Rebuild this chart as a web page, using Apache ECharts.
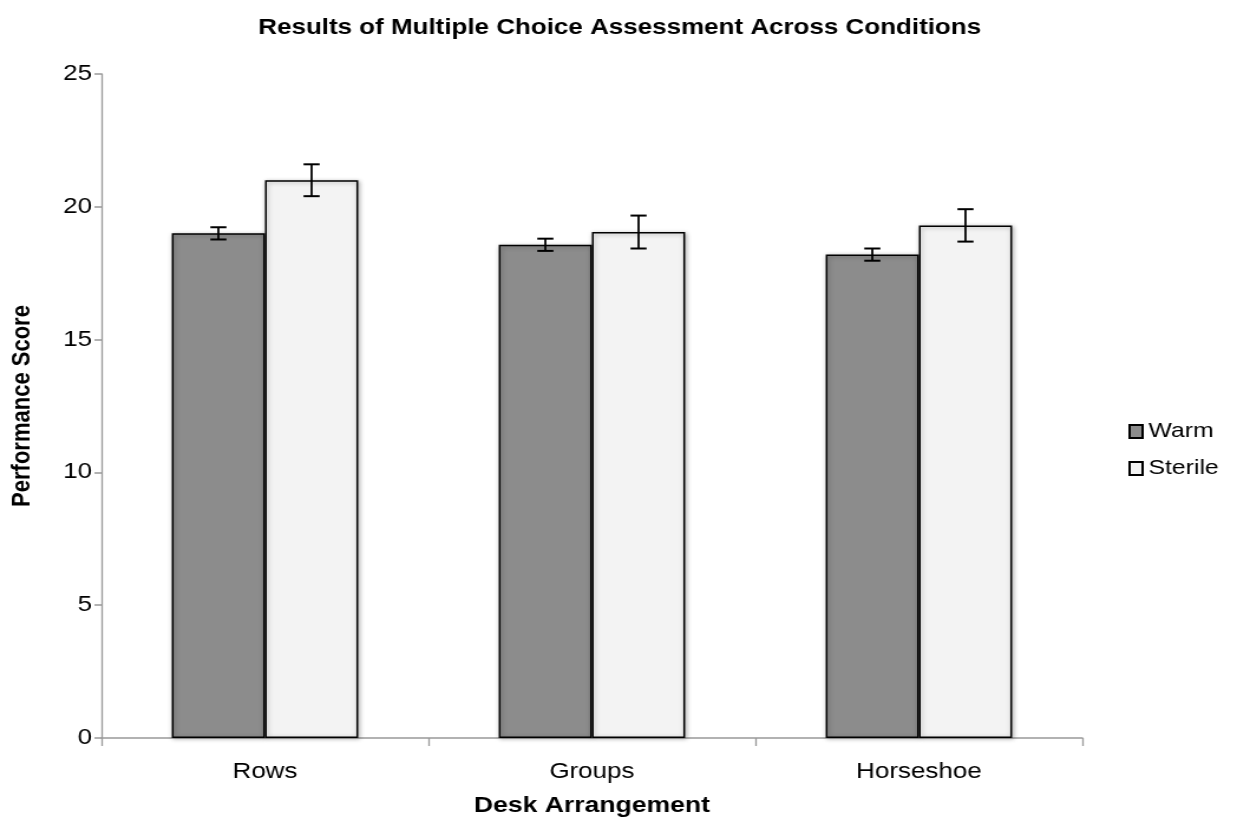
<!DOCTYPE html>
<html>
<head>
<meta charset="utf-8">
<script src="https://cdn.jsdelivr.net/npm/echarts@6/dist/echarts.min.js"></script>
<style>
html,body{margin:0;padding:0;background:#fff;overflow:hidden;}
#chart{width:1048px;height:828px;transform:scaleX(1.18034);transform-origin:0 0;}
</style>
</head>
<body>
<div id="chart"></div>
<script>
const categories = ['Rows', 'Groups', 'Horseshoe'];
const seriesNames = ['Warm', 'Sterile'];
const warmValues = [19.0, 18.57, 18.2];
const sterileValues = [21.0, 19.05, 19.3];
const warmErrors = [0.23, 0.23, 0.23];
const sterileErrors = [0.6, 0.62, 0.61];
const yTicks = [0, 5, 10, 15, 20, 25];

const FONT = '"Liberation Sans", Arial, sans-serif';
const CAT_GAP = 0.43;

function errorSeries(name, values, errors, side) {
  return {
    type: 'custom',
    name: name + ' error',
    z: 10,
    silent: true,
    data: values.map((v, i) => [i, v, errors[i]]),
    renderItem: function (params, api) {
      const idx = api.value(0), v = api.value(1), e = api.value(2);
      const band = api.size([1, 0])[0];
      const bw = band * (1 - CAT_GAP) / 2;
      const c = api.coord([idx, v]);
      const x = c[0] + side * bw / 2;
      const top = api.coord([idx, v + e])[1];
      const bot = api.coord([idx, v - e])[1];
      const cap = 6.8;
      const st = { stroke: '#000', lineWidth: 2 };
      return {
        type: 'group',
        children: [
          { type: 'line', shape: { x1: x, y1: top, x2: x, y2: bot }, style: { stroke: '#000', lineWidth: 1.8 } },
          { type: 'line', shape: { x1: x - cap, y1: top, x2: x + cap, y2: top }, style: st },
          { type: 'line', shape: { x1: x - cap, y1: bot, x2: x + cap, y2: bot }, style: st }
        ]
      };
    }
  };
}

const chart = echarts.init(document.getElementById('chart'), null, { renderer: 'canvas' });
chart.setOption({
  animation: false,
  backgroundColor: '#fff',
  title: {
    text: 'Results of Multiple Choice Assessment Across Conditions',
    left: 520, top: 12, textAlign: 'center',
    textStyle: { fontFamily: FONT, fontWeight: 'bold', fontSize: 22, color: '#000' }
  },
  legend: {
    orient: 'vertical',
    left: 951, top: 416,
    itemWidth: 11, itemHeight: 13, itemGap: 16,
    icon: 'rect',
    textStyle: { fontFamily: FONT, fontSize: 21, color: '#000' },
    data: seriesNames
  },
  grid: { left: 84, right: 131, top: 74, bottom: 90, containLabel: false },
  xAxis: {
    type: 'category',
    data: categories,
    name: 'Desk Arrangement',
    nameLocation: 'middle',
    nameGap: 56,
    nameTextStyle: { fontFamily: FONT, fontWeight: 'bold', fontSize: 22.5, color: '#000' },
    axisLine: { lineStyle: { color: '#999', width: 1.5 } },
    axisTick: { show: true, length: 8, lineStyle: { color: '#999', width: 1.3 } },
    axisLabel: { fontFamily: FONT, fontSize: 22, color: '#000', margin: 23 }
  },
  yAxis: {
    type: 'value',
    min: 0, max: 25, interval: 5,
    name: 'Performance Score',
    nameLocation: 'middle',
    nameGap: 56,
    nameTextStyle: { fontFamily: FONT, fontWeight: 'bold', fontSize: 22, color: '#000' },
    axisLine: { show: true, lineStyle: { color: '#999', width: 1.3 } },
    axisTick: { show: true, length: 6, lineStyle: { color: '#999', width: 1.5 } },
    splitLine: { show: false },
    axisLabel: { fontFamily: FONT, fontSize: 22, color: '#000', margin: 8,
      formatter: v => yTicks.includes(v) ? String(v) : '' }
  },
  series: [
    {
      type: 'bar', name: 'Warm', data: warmValues,
      barGap: '0%', barCategoryGap: (CAT_GAP * 100) + '%',
      itemStyle: { color: '#8c8c8c', borderColor: '#000', borderWidth: 1.5,
        shadowColor: 'rgba(0,0,0,0.3)', shadowBlur: 4, shadowOffsetX: 1, shadowOffsetY: 1 }
    },
    {
      type: 'bar', name: 'Sterile', data: sterileValues,
      itemStyle: { color: '#f3f3f3', borderColor: '#000', borderWidth: 1.5,
        shadowColor: 'rgba(0,0,0,0.3)', shadowBlur: 4, shadowOffsetX: 1, shadowOffsetY: 1 }
    },
    errorSeries('Warm', warmValues, warmErrors, -1),
    errorSeries('Sterile', sterileValues, sterileErrors, 1)
  ]
});
</script>
</body>
</html>
